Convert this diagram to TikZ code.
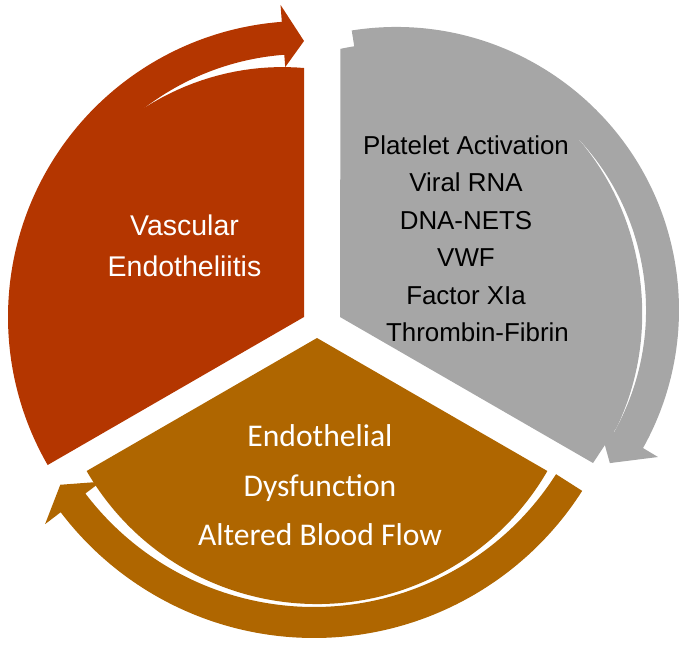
\documentclass[tikz,border=0pt]{standalone}
\usepackage{fontspec}
\setmainfont{Liberation Sans}
\newfontfamily\calibrifont{Carlito}
\usetikzlibrary{calc}
\definecolor{rustred}{RGB}{180,54,0}
\definecolor{ochre}{RGB}{175,102,0}
\definecolor{midgray}{RGB}{166,166,166}

\begin{document}
\begin{tikzpicture}[x=1pt, y=1pt]
    \tikzstyle{vascular} = [fill=rustred]
    \tikzstyle{clotting} = [fill=midgray]
    \tikzstyle{dysfunction} = [fill=ochre]
    \tikzstyle{graytext} = [anchor=base, inner sep=0pt, font=\fontsize{25.9}{30}\selectfont]
    \tikzstyle{redtext} = [anchor=base, inner sep=0pt, text=white, font=\fontsize{28.5}{33}\selectfont]
    \tikzstyle{ochretext} = [anchor=base, inner sep=0pt, text=white, font=\calibrifont\fontsize{31.6}{36}\selectfont]
    \useasboundingbox (-322,-318) rectangle (363,327);
    % apexes of the three segments and centres of the arrows
    \coordinate (Ar) at (-18,10);
    \coordinate (Ag) at (18,10);
    \coordinate (Cg) at (74,17);
    \coordinate (Ao) at (-5,-11);
    \coordinate (Co) at (-8,7);

    % red segment
    \fill[vascular] (Ar) -- ++(210:296) arc[start angle=210, end angle=145, radius=296]
        -- ($(Ar)+(127:263)$)
        -- plot[domain=127:90, samples=20] ({-18+(249+14*(\x-90)/37)*cos(\x)}, {10+(249+14*(\x-90)/37)*sin(\x)})
        -- cycle;
    \fill[vascular] ($(Ar)+(145:296)$) arc[start angle=145, end angle=94.3, radius=296]
        -- ($(Ar)+(94.3:313)$) -- ($(Ar)+(90:276)$) -- ($(Ar)+(94.3:250.6)$)
        -- ($(Ar)+(94.3:263)$) arc[start angle=94.3, end angle=145, radius=263] -- cycle;

    % gray segment
    \fill[clotting] (Ag) -- ($(Cg)+(102:267)$) arc[start angle=102, end angle=43, radius=267]
        -- plot[domain=43:-28, samples=35] ({74+(250-4*sin(180*(43-\x)/71))*cos(\x)}, {17+(250-4*sin(180*(43-\x)/71))*sin(\x)})
        -- (271,-136) -- cycle;
    \fill[clotting] ($(Cg)+(99:283)$) arc[start angle=99, end angle=-29.2, radius=283]
        -- ($(Cg)+(-29.3:300.4)$) -- ($(Cg)+(-35.6:263)$) -- ($(Cg)+(-29.3:232.8)$)
        -- ($(Cg)+(-29.2:250)$) arc[start angle=-29.2, end angle=99, radius=250] -- cycle;

    % ochre segment
    \fill[dysfunction] (Ao) -- ++(210:266) arc[start angle=210, end angle=330, radius=266] -- cycle;
    \fill[dysfunction] ($(Co)+(327.5:318)$) arc[start angle=327.5, end angle=217.2, radius=318]
        -- ($(Co)+(217.2:337.6)$) -- ($(Co)+(213:302.5)$) -- ($(Co)+(217.2:267.5)$)
        -- ($(Co)+(217.2:287)$) arc[start angle=217.2, end angle=327.5, radius=287] -- cycle;

    % labels
    \node[redtext] (vasc1) at (-137.5,91) {Vascular};
    \node[redtext] (vasc2) at (-137.5,50) {Endotheliitis};

    \node[graytext] (clot1) at (144,172) {Platelet Activation};
    \node[graytext] (clot2) at (144,135) {Viral RNA};
    \node[graytext] (clot3) at (144,97.5) {DNA-NETS};
    \node[graytext] (clot4) at (144,60) {VWF};
    \node[graytext] (clot5) at (144,23) {Factor XIa};
    \node[graytext] (clot6) at (155.5,-14) {Thrombin-Fibrin};

    \node[ochretext] (dys1) at (-2,-119) {Endothelial};
    \node[ochretext] (dys2) at (-2,-169) {Dysfunction};
    \node[ochretext] (dys3) at (-2,-218) {Altered Blood Flow};
\end{tikzpicture}
\end{document}
